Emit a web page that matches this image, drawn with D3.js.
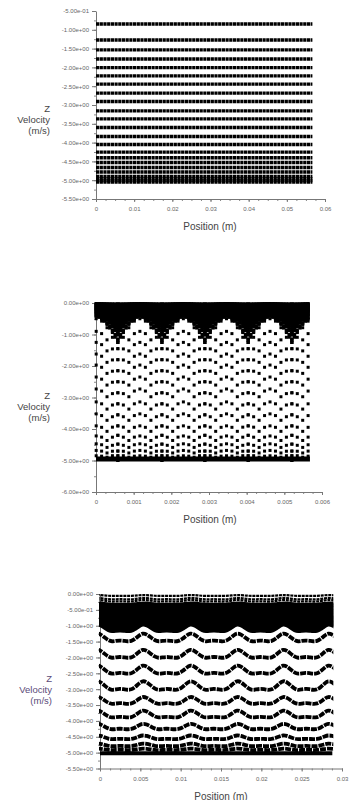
<!DOCTYPE html>
<html>
<head>
<meta charset="utf-8">
<title>Z Velocity vs Position</title>
<script src="https://cdn.jsdelivr.net/npm/d3@7"></script>
<style>
  body { margin: 0; background: #fff; }
  svg text { font-family: "Liberation Sans", Arial, sans-serif; }
  .axis .tick text { font-size: 6px; fill: #666; }
  .axis .tick line, .axis .domain { stroke: #777; }
  .minor .domain { display: none; }
  .minor .tick line { stroke: #888; }
</style>
</head>
<body>
<svg id="chart" width="352" height="800"></svg>
<script>
// ---- panel 1 : straight rows of particles
var p1XLabels = ["0", "0.01", "0.02", "0.03", "0.04", "0.05", "0.06"];
var p1YTicks = [-0.5, -1, -1.5, -2, -2.5, -3, -3.5, -4, -4.5, -5, -5.5];
var p1XEnd = 0.0567;
var p1Rows = [-0.845, -1.27, -1.535, -1.775, -2.005, -2.226, -2.446, -2.685, -2.908,
  -3.155, -3.368, -3.599, -3.838, -4.05, -4.252, -4.403, -4.528, -4.661, -4.783,
  -4.9, -4.96, -5.01, -5.05];

// ---- panel 2 : arches
var p2XLabels = ["0", "0.001", "0.002", "0.003", "0.004", "0.005", "0.006"];
var p2YTicks = [0, -1, -2, -3, -4, -5, -6];
var p2XEnd = 0.00568;
var p2Columns = [-0.00057, 0.00058, 0.00175, 0.00289, 0.00404, 0.0052, 0.00635];
var p2ArchFine = [0, 0.2, 0.38, 0.55, 0.69, 0.81, 0.9, 0.96, 1, 0.96, 0.9, 0.81, 0.69, 0.55, 0.38, 0.2, 0];
var p2ArchCoarse = [0, 0.38, 0.7, 0.92, 1, 0.92, 0.7, 0.38, 0];
// [velocity at the arch foot, rise at arch top]
var p2Band = [[-0.02, 0.01], [-0.07, 0.05], [-0.12, 0.08], [-0.17, 0.11], [-0.22, 0.15],
  [-0.27, 0.18], [-0.32, 0.21], [-0.37, 0.24], [-0.42, 0.28], [-0.47, 0.31], [-0.52, 0.34],
  [-0.57, 0.38], [-0.62, 0.41], [-0.67, 0.44], [-0.72, 0.48], [-0.78, 0.51], [-0.84, 0.55],
  [-0.9, 0.59], [-0.96, 0.63], [-1.02, 0.67], [-1.14, 0.75], [-1.2, 0.79], [-1.26, 0.83]];
var p2Rows = [[-1.45, 0.95], [-1.8, 0.9], [-2.15, 0.9], [-2.5, 0.88], [-2.85, 0.88],
  [-3.2, 0.85], [-3.55, 0.82], [-3.9, 0.76], [-4.2, 0.68], [-4.48, 0.58], [-4.7, 0.48],
  [-4.85, 0.38], [-4.95, 0.27], [-5.0, 0.15]];
var p2Floor = -4.95;

// ---- panel 3 : wavy rows
var p3XLabels = ["0", "0.005", "0.01", "0.015", "0.02", "0.025", "0.03"];
var p3YTicks = [0, -0.5, -1, -1.5, -2, -2.5, -3, -3.5, -4, -4.5, -5, -5.5];
var p3XEnd = 0.0288;
var p3Peaks = [-0.0004, 0.0053, 0.0112, 0.0170, 0.0227, 0.0283, 0.034];
var p3Wave = [1, 0.85, 0.5, 0.15, 0, 0.08, 0.14, 0.1, 0.02, 0.05, 0.3, 0.7, 1];
// [trough velocity, wave height]
var p3Top = [[-0.06, 0.03], [-0.17, 0.05], [-0.24, 0.06]];
var p3Band = [[-0.32, 0.05], [-0.36, 0.06], [-0.4, 0.06], [-0.44, 0.07], [-0.48, 0.08],
  [-0.52, 0.08], [-0.56, 0.09], [-0.6, 0.1], [-0.64, 0.1], [-0.68, 0.11], [-0.72, 0.12],
  [-0.76, 0.12], [-0.8, 0.13], [-0.84, 0.14], [-0.88, 0.15], [-0.92, 0.16], [-0.96, 0.17],
  [-1.0, 0.18], [-1.04, 0.19], [-1.08, 0.2], [-1.12, 0.21], [-1.16, 0.22], [-1.2, 0.23]];
var p3Rows = [[-1.50, 0.27], [-2.02, 0.28], [-2.52, 0.28], [-3.03, 0.3], [-3.47, 0.24],
  [-3.90, 0.24], [-4.27, 0.19], [-4.58, 0.13], [-4.80, 0.09], [-4.92, 0.05]];
var p3Floor = -5.02;

var svg = d3.select("#chart");

function sci(v) {
  if (v === 0) return "0.00e+00";
  var e = Math.floor(Math.log10(Math.abs(v)) + 1e-9);
  var m = v / Math.pow(10, e);
  return m.toFixed(2) + "e" + (e < 0 ? "-" : "+") + String(Math.abs(e)).padStart(2, "0");
}

function panel(o) {
  var xt = o.xLabels.map(Number);
  var x = d3.scaleLinear().domain([0, xt[xt.length - 1]]).range([o.left, o.right]);
  var y = d3.scaleLinear().domain([o.yTicks[o.yTicks.length - 1], o.yTicks[0]]).range([o.bottom, o.top]);
  var g = svg.append("g");

  // minor ticks
  var xStep = xt[1] - xt[0], yStep = o.yTicks[0] - o.yTicks[1];
  g.append("g").attr("class", "minor").attr("transform", "translate(0," + o.bottom + ")")
    .call(d3.axisBottom(x).tickValues(d3.range(0, xt[xt.length - 1] + 1e-9, xStep / 4)).tickSize(2).tickFormat(""));
  g.append("g").attr("class", "minor").attr("transform", "translate(" + o.left + ",0)")
    .call(d3.axisLeft(y).tickValues(d3.range(o.yTicks[o.yTicks.length - 1], o.yTicks[0] + 1e-9, yStep / 2)).tickSize(2).tickFormat(""));

  g.append("g").attr("class", "axis").attr("transform", "translate(0," + o.bottom + ")")
    .call(d3.axisBottom(x).tickValues(xt).tickSize(3).tickSizeOuter(0).tickPadding(5)
      .tickFormat(function (d, i) { return o.xLabels[i]; }));
  g.append("g").attr("class", "axis").attr("transform", "translate(" + o.left + ",0)")
    .call(d3.axisLeft(y).tickValues(o.yTicks).tickSize(4).tickSizeOuter(0).tickPadding(3).tickFormat(sci));

  g.append("text").attr("x", o.titleX).attr("y", o.bottom + 31).attr("text-anchor", "middle")
    .attr("font-size", 10).attr("fill", "#444").text("Position (m)");
  var lab = g.append("g").attr("fill", o.labelColor).attr("font-size", 9.5).attr("text-anchor", "end");
  ["Z", "Velocity", "(m/s)"].forEach(function (t, i) {
    lab.append("text").attr("x", o.labelX).attr("y", o.labelY + i * 11).text(t);
  });

  var data = g.append("g");
  return { x: x, y: y, g: data };
}

// ---------- panel 1
var P1 = panel({ xLabels: p1XLabels, yTicks: p1YTicks, left: 96, right: 325, top: 11, bottom: 199,
  titleX: 210, labelX: 50, labelY: 112, labelColor: "#444" });
P1.g.selectAll("line").data(p1Rows).join("line")
  .attr("x1", P1.x(0)).attr("x2", P1.x(p1XEnd))
  .attr("y1", function (d) { return P1.y(d); }).attr("y2", function (d) { return P1.y(d); })
  .attr("stroke", "#000").attr("stroke-width", 3.4).attr("stroke-dasharray", "3.2,0.5");

// ---------- panel 2
var P2 = panel({ xLabels: p2XLabels, yTicks: p2YTicks, left: 96, right: 322, top: 303, bottom: 492,
  titleX: 210, labelX: 50, labelY: 399, labelColor: "#444" });

function archDots(rows, feet, profile) {
  var pts = [];
  rows.forEach(function (r) {
    for (var k = 0; k < feet.length - 1; k++) {
      var c0 = feet[k], c1 = feet[k + 1];
      profile.forEach(function (s, i) {
        var xv = c0 + (c1 - c0) * i / (profile.length - 1);
        if (xv >= 0 && xv <= p2XEnd) pts.push([xv, r[0] + r[1] * s]);
      });
    }
  });
  return pts;
}
function dots(cls, pts, w, h) {
  P2.g.selectAll("rect." + cls).data(pts).join("rect").attr("class", cls)
    .attr("x", function (d) { return P2.x(d[0]) - w / 2; })
    .attr("y", function (d) { return P2.y(d[1]) - h / 2; })
    .attr("width", w).attr("height", h).attr("fill", "#000");
}
P2.g.append("line").attr("x1", P2.x(0)).attr("x2", P2.x(p2XEnd))
  .attr("y1", P2.y(p2Floor)).attr("y2", P2.y(p2Floor)).attr("stroke", "#000").attr("stroke-width", 5);
dots("band", archDots(p2Band, p2Columns, p2ArchFine), 3.2, 2.6);
dots("dot", archDots(p2Rows, p2Columns, p2ArchCoarse), 3, 3);

// ---------- panel 3
var P3 = panel({ xLabels: p3XLabels, yTicks: p3YTicks, left: 100, right: 342, top: 594, bottom: 768.5,
  titleX: 221, labelX: 52, labelY: 682, labelColor: "#5a4a78" });

svg.append("clipPath").attr("id", "clip3").append("rect")
  .attr("x", P3.x(0) - 1).attr("y", 580).attr("width", P3.x(p3XEnd) - P3.x(0) + 2).attr("height", 200);

function waveLine(r) {
  var pts = [];
  for (var k = 0; k < p3Peaks.length - 1; k++) {
    var a = p3Peaks[k], b = p3Peaks[k + 1];
    p3Wave.forEach(function (s, i) {
      if (i === p3Wave.length - 1 && k < p3Peaks.length - 2) return;
      pts.push([a + (b - a) * i / (p3Wave.length - 1), r[0] + r[1] * s]);
    });
  }
  return pts;
}
var line3 = d3.line().x(function (d) { return P3.x(d[0]); }).y(function (d) { return P3.y(d[1]); })
  .curve(d3.curveBasis);
var g3 = P3.g.attr("clip-path", "url(#clip3)");
g3.selectAll("path.band").data(p3Band).join("path").attr("class", "band")
  .attr("d", function (r) { return line3(waveLine(r)); })
  .attr("fill", "none").attr("stroke", "#000").attr("stroke-width", 2.6);
g3.selectAll("path.top").data(p3Top).join("path").attr("class", "top")
  .attr("d", function (r) { return line3(waveLine(r)); })
  .attr("fill", "none").attr("stroke", "#000").attr("stroke-width", 2.2).attr("stroke-dasharray", "3,0.8");
g3.selectAll("path.row").data(p3Rows).join("path").attr("class", "row")
  .attr("d", function (r) { return line3(waveLine(r)); })
  .attr("fill", "none").attr("stroke", "#000").attr("stroke-width", 3.8).attr("stroke-dasharray", "6,1");
g3.append("line").attr("x1", P3.x(0)).attr("x2", P3.x(p3XEnd))
  .attr("y1", P3.y(p3Floor)).attr("y2", P3.y(p3Floor)).attr("stroke", "#000").attr("stroke-width", 4);
</script>
</body>
</html>
